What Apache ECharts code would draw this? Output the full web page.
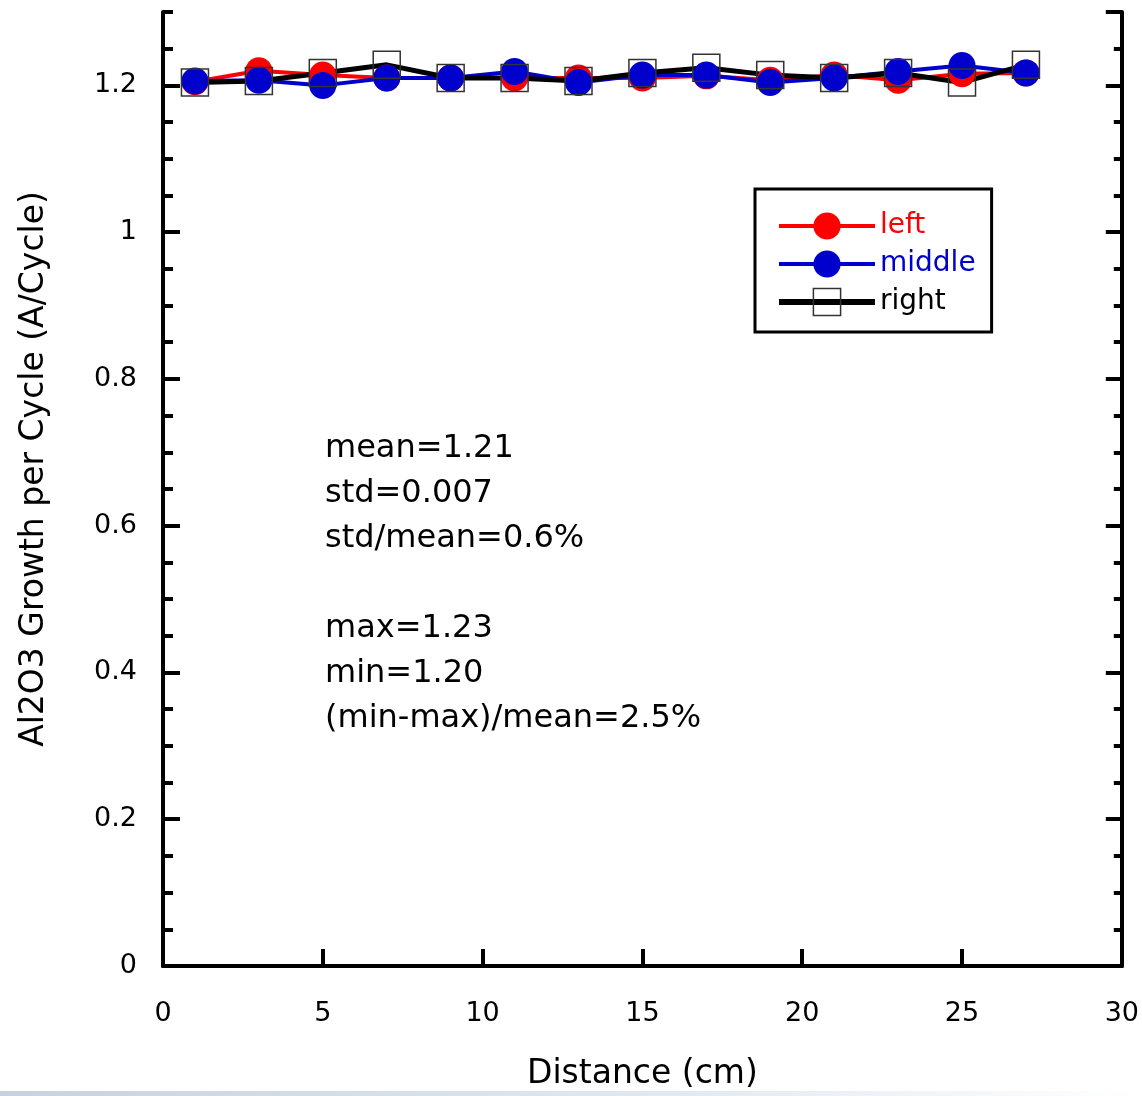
<!DOCTYPE html>
<html>
<head>
<meta charset="utf-8">
<script src="https://cdn.jsdelivr.net/npm/echarts@6/dist/echarts.min.js"></script>
<style>
  html, body { margin: 0; padding: 0; background: #fff; }
  #main { width: 1142px; height: 1096px; }
</style>
</head>
<body>
<div id="main"></div>
<script>
// distance along the substrate (cm)
var distance = [1, 3, 5, 7, 9, 11, 13, 15, 17, 19, 21, 23, 25, 27];
// growth per cycle (A/Cycle)
var leftGpc   = [1.205, 1.220, 1.214, 1.210, 1.210, 1.210, 1.210, 1.210, 1.213, 1.207, 1.214, 1.207, 1.216, 1.217];
var middleGpc = [1.206, 1.207, 1.200, 1.210, 1.210, 1.219, 1.204, 1.214, 1.214, 1.204, 1.210, 1.219, 1.227, 1.217];
var rightGpc  = [1.204, 1.206, 1.217, 1.228, 1.210, 1.210, 1.206, 1.217, 1.224, 1.214, 1.210, 1.217, 1.204, 1.228];
var statsText = ['mean=1.21', 'std=0.007', 'std/mean=0.6%', '', 'max=1.23', 'min=1.20', '(min-max)/mean=2.5%'];

var FONT = '"DejaVu Sans", sans-serif';

function pairs(ys) {
    return ys.map(function (y, i) { return [distance[i], y]; });
}

var myChart = echarts.init(document.getElementById('main'));

// y axes: two per side, one for major ticks/labels and one for the minor ticks
function yAxisDef(pos, step, tickLen, withLabels) {
    return {
        type: 'value',
        position: pos,
        min: 0,
        max: 1.3,
        interval: step,
        axisLine: { show: step === 0.2, lineStyle: { color: '#000', width: 4 } },
        axisTick: { show: true, inside: true, length: tickLen, lineStyle: { color: '#000', width: 4 } },
        axisLabel: {
            show: withLabels,
            showMaxLabel: false,
            margin: 26,
            color: '#000',
            fontSize: 27,
            fontFamily: FONT
        },
        splitLine: { show: false }
    };
}

var yLeft = yAxisDef('left', 0.2, 17, true);
yLeft.name = 'Al2O3 Growth per Cycle (A/Cycle)';
yLeft.nameLocation = 'middle';
yLeft.nameGap = 112;
yLeft.nameTextStyle = { color: '#000', fontSize: 33, fontFamily: FONT, padding: [0, 0, 0, 40] };

var option = {
    backgroundColor: '#fff',
    animation: false,
    grid: { left: 163, right: 20, top: 12, bottom: 126 },
    legend: {
        orient: 'vertical',
        left: 755,
        top: 189,
        padding: [20, 16, 13, 21],
        borderColor: '#000',
        borderWidth: 3,
        itemWidth: 96,
        itemHeight: 34,
        itemGap: 4,
        textStyle: { fontSize: 28, fontFamily: FONT, lineHeight: 34 },
        data: [
            { name: 'left', textStyle: { color: '#ff0000' }, lineStyle: { color: '#ff0000', width: 4 } },
            { name: 'middle', textStyle: { color: '#0000cc' }, lineStyle: { color: '#0000cc', width: 4 } },
            {
                name: 'right',
                textStyle: { color: '#000' },
                lineStyle: { color: '#000', width: 6 },
                itemStyle: { color: 'rgba(0,0,0,0)', borderColor: '#333', borderWidth: 1.5 }
            }
        ]
    },
    xAxis: [
        {
            type: 'value',
            position: 'bottom',
            min: 0,
            max: 30,
            interval: 5,
            axisLine: { lineStyle: { color: '#000', width: 4 } },
            axisTick: { inside: true, length: 17, lineStyle: { color: '#000', width: 4 } },
            axisLabel: { margin: 34, color: '#000', fontSize: 27, fontFamily: FONT },
            splitLine: { show: false },
            name: 'Distance (cm)',
            nameLocation: 'middle',
            nameGap: 92,
            nameTextStyle: { color: '#000', fontSize: 33, fontFamily: FONT }
        },
        {
            type: 'value',
            position: 'top',
            min: 0,
            max: 30,
            axisLine: { lineStyle: { color: '#000', width: 4 } },
            axisTick: { show: false },
            axisLabel: { show: false },
            splitLine: { show: false }
        }
    ],
    yAxis: [
        yLeft,
        yAxisDef('left', 0.05, 10, false),
        yAxisDef('right', 0.2, 16, false),
        yAxisDef('right', 0.05, 8, false)
    ],
    graphic: [
        {
            type: 'text',
            left: 325,
            top: 426,
            style: {
                text: statsText.join('\n'),
                fill: '#000',
                font: '32px ' + FONT,
                lineHeight: 45
            }
        },
        {
            type: 'rect',
            left: 0,
            bottom: 0,
            shape: { width: 1142, height: 5 },
            style: {
                fill: new echarts.graphic.LinearGradient(0, 0, 1, 0, [
                    { offset: 0, color: '#c5d3e0' },
                    { offset: 0.6, color: '#e2e9f0' },
                    { offset: 1, color: '#ffffff' }
                ])
            },
            silent: true
        }
    ],
    series: [
        {
            name: 'left',
            type: 'line',
            data: pairs(leftGpc),
            symbol: 'circle',
            symbolSize: 27,
            itemStyle: { color: '#ff0000' },
            lineStyle: { color: '#ff0000', width: 4 }
        },
        {
            name: 'middle',
            type: 'line',
            data: pairs(middleGpc),
            symbol: 'circle',
            symbolSize: 27,
            itemStyle: { color: '#0000cc' },
            lineStyle: { color: '#0000cc', width: 4 }
        },
        {
            name: 'right',
            type: 'line',
            data: pairs(rightGpc),
            symbol: 'rect',
            symbolSize: 27,
            itemStyle: { color: 'rgba(0,0,0,0)', borderColor: '#333', borderWidth: 1.5 },
            lineStyle: { color: '#000', width: 5 }
        }
    ]
};

myChart.setOption(option);
</script>
</body>
</html>
